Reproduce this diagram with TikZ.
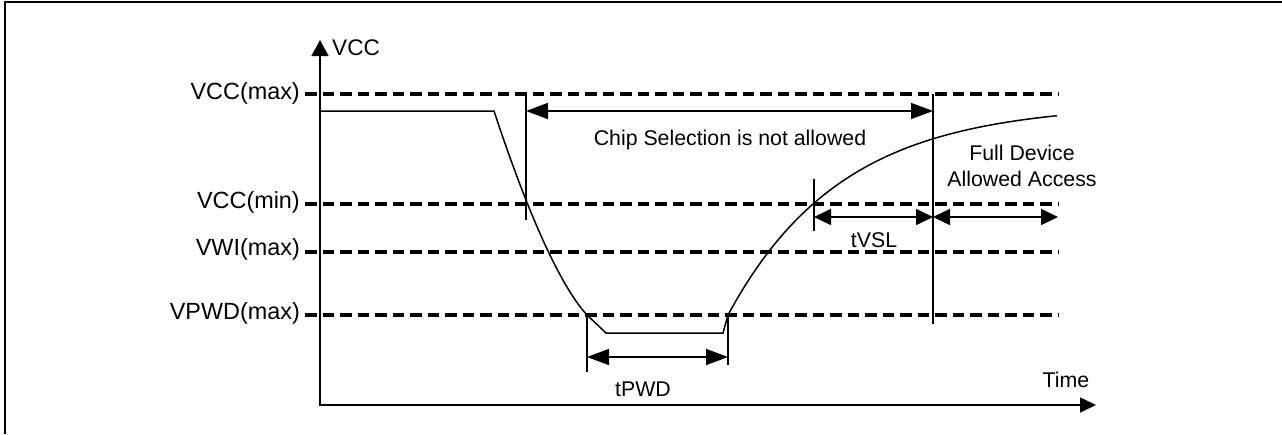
\documentclass[tikz,border=0pt]{standalone}
\usepackage{fontspec}
\setmainfont{Liberation Sans}
\usetikzlibrary{arrows.meta}
\begin{document}
\begin{tikzpicture}[x=1pt,y=-1pt,
  lvl/.style={line width=3.2pt, dash pattern=on 11.5pt off 6pt},
  thinline/.style={line width=1.5pt},
  lbl/.style={font=\fontsize{21.3}{25.5}\selectfont, inner sep=0pt},
  biglbl/.style={font=\fontsize{23.4}{28}\selectfont, inner sep=0pt},
  bigtip/.style={{Triangle[length=22pt,width=16pt]}-{Triangle[length=22pt,width=16pt]}},
  smalltip/.style={{Triangle[length=17pt,width=16pt]}-{Triangle[length=17pt,width=16pt]}}]
\useasboundingbox (0,0) rectangle (1282,434);
% frame
\draw[line width=2pt] (5,434) -- (5,2) -- (1282,2);
% level lines
\coordinate (vmaxL) at (305,94);   \coordinate (vmaxR) at (1058,94);
\coordinate (vminL) at (305,204);  \coordinate (vminR) at (1058,204);
\coordinate (vwiL) at (305,252);   \coordinate (vwiR) at (1058,252);
\coordinate (vpwdL) at (305,315);  \coordinate (vpwdR) at (1058,315);
\draw[lvl] (vmaxL) -- (vmaxR);
\draw[lvl] (vminL) -- (vminR);
\draw[lvl] (vwiL) -- (vwiR);
\draw[lvl] (vpwdL) -- (vpwdR);
% level labels
\node[biglbl, anchor=east] (lmax) at (300,93) {VCC(max)};
\node[biglbl, anchor=east] (lmin) at (300,202) {VCC(min)};
\node[biglbl, anchor=east] (lwi) at (300,249) {VWI(max)};
\node[biglbl, anchor=east] (lpwd) at (300,313) {VPWD(max)};
% axes
\coordinate (xend) at (1096,405);
\coordinate (orig) at (320,405);
\coordinate (yend) at (320,40);
\draw[thinline, {Triangle[width=15pt,length=16pt]}-{Triangle[width=17pt,length=16pt]}] (xend) -- (orig) -- (yend);
\node[font=\fontsize{22.6}{27}\selectfont, inner sep=0pt, anchor=base west] (vcc) at (332,55) {VCC};
\node[lbl] (time) at (1066,380) {Time};
% signal
\draw[thinline] (320,111) -- (494,111) .. controls (520,190) and (555,280) .. (587,315)
  -- (606,333) -- (723,333) -- (728,315)
  -- plot[domain=728:1057,samples=80] (\x,{104+211*exp(-(\x-728)/113.8)});
% ticks
\coordinate (t1a) at (526,95);  \coordinate (t1b) at (526,220);
\coordinate (t2a) at (933,94);  \coordinate (t2b) at (933,324);
\coordinate (t3a) at (814,179); \coordinate (t3b) at (814,231);
\coordinate (t4a) at (587,315); \coordinate (t4b) at (587,372);
\coordinate (t5a) at (728,315); \coordinate (t5b) at (728,365);
\draw[thinline] (t1a) -- (t1b);
\draw[thinline] (t2a) -- (t2b);
\draw[thinline] (t3a) -- (t3b);
\draw[thinline] (t4a) -- (t4b);
\draw[thinline] (t5a) -- (t5b);
% dimension arrows
\draw[thinline, bigtip] (526,111) -- (933,111);
\draw[thinline, smalltip] (814,217) -- (933,217);
\draw[thinline, smalltip] (933,217) -- (1058,217);
\draw[thinline, bigtip] (587,357) -- (728,357);
% labels
\node[lbl] (chip) at (730,140) {Chip Selection is not allowed};
\node[lbl] (tvsl) at (874,240) {tVSL};
\node[lbl, anchor=north, align=center] (full) at (1022,145) {Full Device\\Allowed Access};
\node[lbl] (tpwd) at (643,389) {tPWD};
\end{tikzpicture}
\end{document}
